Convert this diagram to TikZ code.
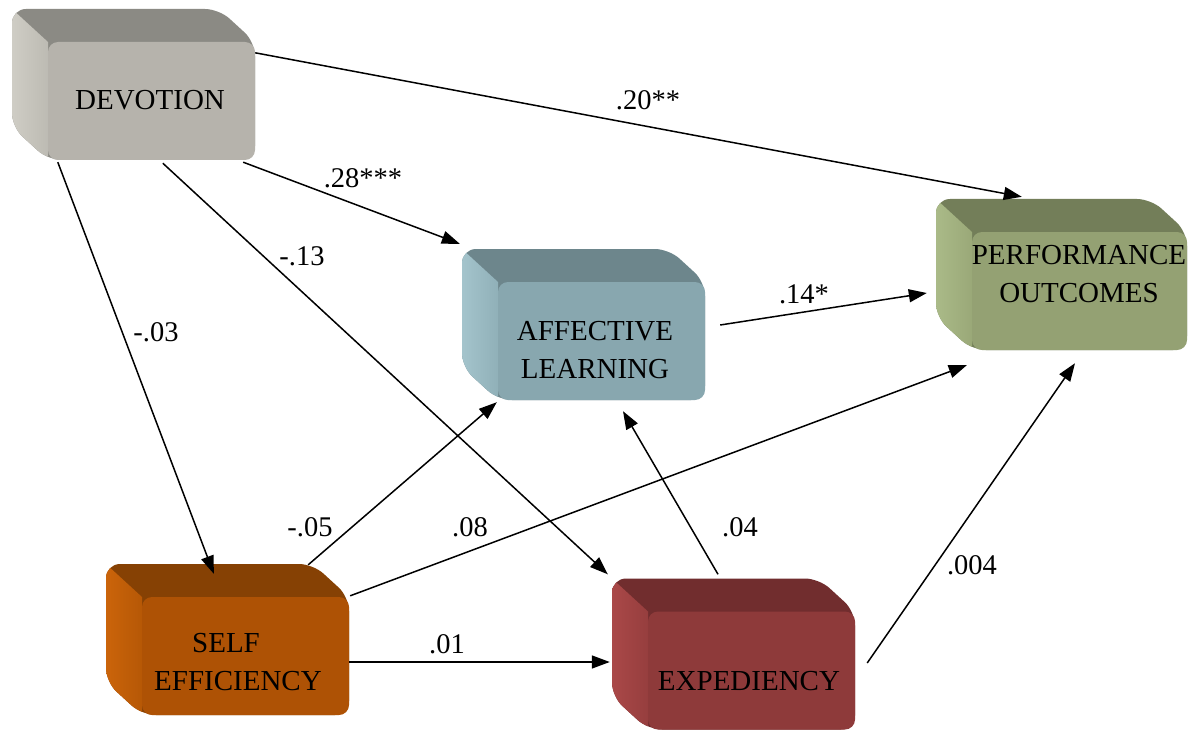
\documentclass[tikz,border=0pt]{standalone}
\usepackage{fontspec}
\setmainfont{Liberation Serif}
\usetikzlibrary{arrows.meta}
\definecolor{devF}{HTML}{B6B3AC}\definecolor{devT}{HTML}{8B8A84}\definecolor{devL}{HTML}{CFCDC5}\definecolor{devM}{HTML}{BDBBB3}
\definecolor{affF}{HTML}{88A7AF}\definecolor{affT}{HTML}{6D868C}\definecolor{affL}{HTML}{A4C4CC}\definecolor{affM}{HTML}{90B0B8}
\definecolor{perF}{HTML}{94A173}\definecolor{perT}{HTML}{737E59}\definecolor{perL}{HTML}{AABA88}\definecolor{perM}{HTML}{9AA878}
\definecolor{selF}{HTML}{AE5205}\definecolor{selT}{HTML}{864104}\definecolor{selL}{HTML}{CB640A}\definecolor{selM}{HTML}{B65806}
\definecolor{expF}{HTML}{8E3A3A}\definecolor{expT}{HTML}{712D2E}\definecolor{expL}{HTML}{AA4848}\definecolor{expM}{HTML}{963E3E}
\tikzset{
  front/.style={rectangle, rounded corners=10pt, minimum height=118pt, inner sep=0pt, draw=none},
  boxtext/.style={font=\fontsize{29}{38}\selectfont, align=center, inner sep=0pt, text=black},
  coef/.style={font=\fontsize{28.5}{32}\selectfont, inner sep=0pt, text=black},
  link/.style={line width=1.5pt, -{Triangle[length=18pt,width=13pt]}},
}
\newcommand\cubebox[8]{%
  \pgfmathsetmacro\cL{#2-#4/2}\pgfmathsetmacro\cR{#2+#4/2}%
  \pgfmathsetmacro\cT{#3-59}\pgfmathsetmacro\cB{#3+59}%
  \pgfmathsetmacro\bL{\cL-36}\pgfmathsetmacro\bR{\cR-36}%
  \pgfmathsetmacro\bT{\cT-33}\pgfmathsetmacro\bB{\cB-33}%
  \fill[#6, rounded corners=14pt] (\bL,\bT) -- (\bR,\bT) -- (\cR,\cT) -- (\cR,\cB) -- (\cL,\cB) -- (\bL,\bB) -- cycle;
  \begin{scope}
    \clip[rounded corners=14pt] (\bL,\bT) -- (\bR,\bT) -- (\cR,\cT) -- (\cR,\cB) -- (\cL,\cB) -- (\bL,\bB) -- cycle;
    \shade[left color=#7, right color=#8] (\bL,\bT) -- (\cL,\cT) -- (\cL,\cB) -- (\bL,\bB) -- cycle;
  \end{scope}
  \node[front, fill=#5, minimum width=#4pt] (#1) at (#2,#3) {};
}
\begin{document}
\begin{tikzpicture}[x=1pt, y=-1pt]
\useasboundingbox (0,0) rectangle (1188,730);
\fill[white] (0,0) rectangle (1188,730);

\cubebox{dev}{151.5}{101}{207}{devF}{devT}{devL}{devM}
\cubebox{aff}{601.5}{341}{207}{affF}{affT}{affL}{affM}
\cubebox{per}{1079.5}{291}{215}{perF}{perT}{perL}{perM}
\cubebox{sel}{245.5}{656}{207}{selF}{selT}{selL}{selM}
\cubebox{exp}{751.5}{670.5}{207}{expF}{expT}{expL}{expM}

\node[boxtext] (devtxt) at (150,100.5) {DEVOTION};
\node[boxtext] (afftxt) at (595,350) {AFFECTIVE\\LEARNING};
\node[boxtext] (pertxt) at (1079,274) {PERFORMANCE\\OUTCOMES};
\node[boxtext] (seltxt) at (238,662) {SELF\hspace*{24pt}\\EFFICIENCY};
\node[boxtext] (exptxt) at (749,681) {EXPEDIENCY};

% connectors
\draw[link] ([yshift=-11pt]dev.north east) -- ([xshift=50pt,yshift=35pt]per.north west);
\draw[link] ([xshift=-12pt,yshift=-2pt]dev.south east) -- ([xshift=-38pt,yshift=38pt]aff.north west);
\draw[link] ([xshift=10pt,yshift=-2pt]dev.south west) -- ([xshift=72pt,yshift=23pt]sel.north west);
\draw[link] ([xshift=115pt,yshift=-3pt]dev.south west) -- ([xshift=-40pt,yshift=37pt]exp.north west);
\draw[link] ([xshift=15pt,yshift=16pt]aff.east) -- ([xshift=-45pt,yshift=-2pt]per.west);
\draw[link] ([xshift=-41pt,yshift=32pt]sel.north east) -- ([xshift=-1pt,yshift=-2pt]aff.south west);
\draw[link] ([xshift=1pt,yshift=1pt]sel.north east) -- ([xshift=-5pt,yshift=-15pt]per.south west);
\draw[link] ([yshift=-6pt]sel.east) -- ([xshift=-38pt,yshift=8.5pt]exp.west);
\draw[link] ([xshift=-33.5pt,yshift=37pt]exp.north) -- ([xshift=21.5pt,yshift=-11pt]aff.south);
\draw[link] ([xshift=12pt,yshift=7.5pt]exp.east) -- ([xshift=-4.5pt,yshift=-13pt]per.south);

% coefficients
\node[coef] (c1) at (648,100) {.20**};
\node[coef] (c2) at (363,178) {.28***};
\node[coef] (c3) at (804,294) {.14*};
\node[coef] (c4) at (310,527) {-.05};
\node[coef] (c5) at (470,527) {.08};
\node[coef] (c6) at (447,644) {.01};
\node[coef] (c7) at (740,527) {.04};
\node[coef] (c8) at (972,565) {.004};
\node[coef] (c9) at (302,256) {-.13};
\node[coef] (c10) at (156,332) {-.03};
\end{tikzpicture}
\end{document}
